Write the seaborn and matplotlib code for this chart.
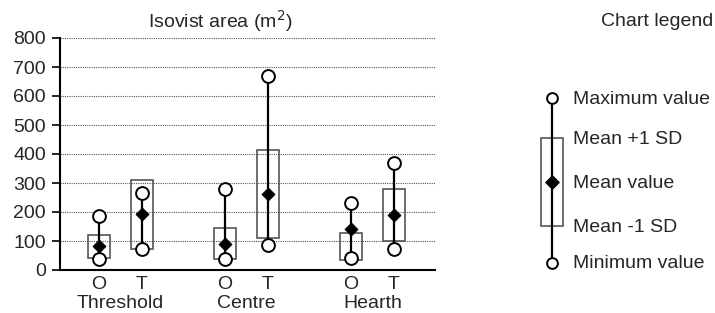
import matplotlib
matplotlib.use("Agg")
import matplotlib.pyplot as plt
import matplotlib.transforms as mtransforms
from matplotlib.patches import Rectangle
import seaborn as sns
import pandas as pd

groups = ["Threshold", "Centre", "Hearth"]
subs = ["O", "T"]
max_vals = [186, 266, 279, 669, 231, 369]
mean_vals = [83, 193, 90, 262, 141, 190]
min_vals = [38, 72, 38, 86, 41, 72]
sd_hi = [121, 310, 145, 414, 128, 279]
sd_lo = [41, 72, 38, 110, 35, 100]
yticks = [0, 100, 200, 300, 400, 500, 600, 700, 800]
legend_labels = ["Maximum value", "Mean +1 SD", "Mean value", "Mean -1 SD", "Minimum value"]

sns.set_style("white")
plt.rcParams["font.family"] = ["Liberation Sans", "DejaVu Sans"]
FS = 14

GSP = 2.93
pos = [g * GSP + k for g in range(len(groups)) for k in range(len(subs))]
df = pd.DataFrame({"x": pos, "max": max_vals, "mean": mean_vals, "min": min_vals,
                   "hi": sd_hi, "lo": sd_lo,
                   "sub": [s for _ in groups for s in subs]})

W, H = 715, 313
fig = plt.figure(figsize=(W / 100, H / 100), dpi=100)
ax = fig.add_axes([60 / W, (H - 270) / H, (435 - 60) / W, (270 - 38) / H])

ax.set_ylim(0, 800)
ax.set_xlim(-39 / 43, 336 / 43)
ax.set_yticks(yticks)
ax.set_yticklabels([str(v) for v in yticks], fontsize=FS)
for v in yticks[1:]:
    ax.axhline(v, color="#555555", lw=0.8, ls=(0, (1, 1)), zorder=0)

bw = 0.53
for _, r in df.iterrows():
    ax.add_patch(Rectangle((r["x"] - bw / 2, r["lo"]), bw, r["hi"] - r["lo"],
                           fill=False, edgecolor="#555555", lw=1.2, zorder=2))
ax.vlines(df["x"], df["min"], df["max"], color="black", lw=1.6, zorder=3)
sns.scatterplot(data=df, x="x", y="max", ax=ax, marker="o", s=85, color="white",
                edgecolor="black", linewidth=1.4, zorder=4, legend=False)
sns.scatterplot(data=df, x="x", y="min", ax=ax, marker="o", s=85, color="white",
                edgecolor="black", linewidth=1.4, zorder=4, legend=False)
sns.scatterplot(data=df, x="x", y="mean", ax=ax, marker="D", s=45, color="black",
                edgecolor="black", linewidth=0.5, zorder=5, legend=False)

ax.set_xticks(pos)
ax.set_xticklabels(df["sub"], fontsize=FS)
ax.tick_params(axis="x", length=0, pad=4)
ax.tick_params(axis="y", length=6, width=1.2, color="black", left=True, pad=4)
ax.set_xlabel("")
ax.set_ylabel("")
for s in ["top", "right"]:
    ax.spines[s].set_visible(False)
for s in ["left", "bottom"]:
    ax.spines[s].set_color("black")
    ax.spines[s].set_linewidth(1.5)

grp_tf = mtransforms.blended_transform_factory(ax.transData, fig.transFigure)
for g, name in enumerate(groups):
    ax.text(g * GSP + 0.5, 1 - 303.5 / H, name, transform=grp_tf,
            ha="center", va="center", fontsize=FS)

fig.text(220 / W, 1 - 21 / H, "Isovist area (m$^2$)", ha="center", va="center", fontsize=FS)
fig.text(657 / W, 1 - 21 / H, "Chart legend", ha="center", va="center", fontsize=FS)

# legend panel in pixel coordinates
lg = fig.add_axes([0, 0, 1, 1], facecolor="none")
lg.set_xlim(0, W)
lg.set_ylim(H, 0)
lg.axis("off")
lx = 552
ly = [98, 138, 182, 226, 263]
lg.add_patch(Rectangle((lx - 11, ly[1]), 22, ly[3] - ly[1], fill=False,
                       edgecolor="#555555", lw=1.2, zorder=2))
lg.vlines([lx], ly[0], ly[4], color="black", lw=1.6, zorder=3)
lg.scatter([lx, lx], [ly[0], ly[4]], marker="o", s=60, facecolor="white",
           edgecolor="black", linewidths=1.4, zorder=4)
lg.scatter([lx], [ly[2]], marker="D", s=45, color="black", zorder=5)
for yy, t in zip(ly, legend_labels):
    lg.text(573, yy + 1, t, ha="left", va="center", fontsize=FS)

fig.savefig("out.png", dpi=100)
